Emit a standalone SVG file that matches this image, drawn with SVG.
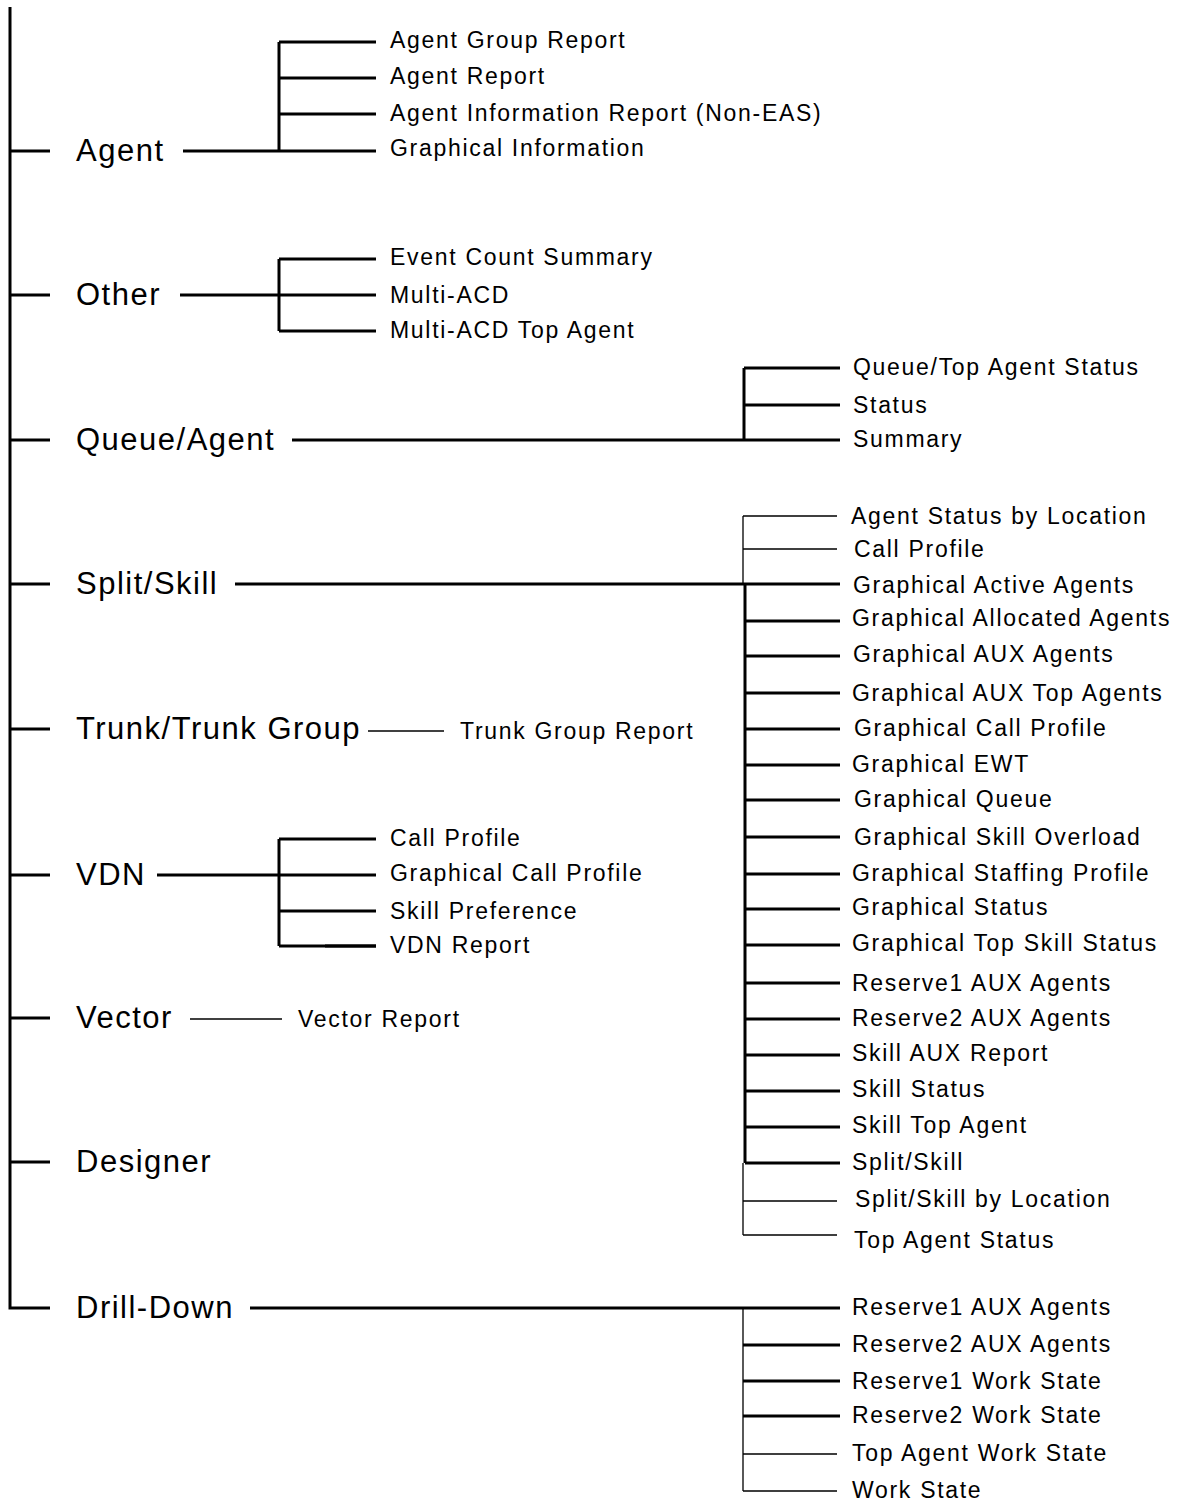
<svg xmlns="http://www.w3.org/2000/svg" width="1185" height="1501" viewBox="0 0 1185 1501">
<style>
.l1{font-family:"Liberation Sans",Arial,sans-serif;font-size:31px;letter-spacing:1.5px;fill:#000}
.l2{font-family:"Liberation Sans",Arial,sans-serif;font-size:23px;letter-spacing:1.7px;fill:#000}
.k{stroke:#000;stroke-width:3;fill:none}
.t{stroke:#000;stroke-width:1.3;fill:none}
</style>
<rect width="1185" height="1501" fill="#fff"/>
<g id="connectors">
<path class="k" d="M10,7V1308H50M10,151H50M10,295H50M10,440H50M10,584H50M10,729H50M10,875H50M10,1162H50"/>
<path class="k" stroke-width="4" d="M10,1018H50"/>
<path class="k" d="M183,151H376M279,42V151M279,78H376M279,114H376"/>
<path class="k" stroke-width="4" d="M279,42H376"/>
<path class="k" d="M180,295H376M279,259V331M279,259H376M279,331H376"/>
<path class="k" d="M292,440H840M744,368V440M744,368H840M744,405H840"/>
<path class="k" d="M235,584H840M745,584V1163M745,621H840M745,656H840M745,693H840M745,729H840M745,765H840M745,800H840M745,837H840M745,874H840M745,909H840M745,945H840M745,983H840M745,1019H840M745,1055H840M745,1091H840M745,1127H840M745,1163H840"/>
<path class="t" d="M743,516V584M743,516H837M743,549H837M743,1163V1235M743,1201H837M743,1235H837"/>
<path class="t" d="M368,731H444"/>
<path class="k" d="M157,875H376M279,839V946M279,839H376M279,911H376M279,946H376"/>
<path class="k" stroke-width="5" d="M325,946H376"/>
<path class="t" d="M190,1019H282"/>
<path class="k" d="M250,1308H840M743,1345H840M743,1381H840M743,1416H840"/>
<path class="t" d="M743,1308V1491M743,1454H837M743,1491H837"/>
</g>
<g id="agent"><text class="l1" x="76" y="161">Agent</text></g>
<g id="agent-children">
<text class="l2" x="390" y="48">Agent Group Report</text>
<text class="l2" x="390" y="84">Agent Report</text>
<text class="l2" x="390" y="121">Agent Information Report (Non-EAS)</text>
<text class="l2" x="390" y="156">Graphical Information</text>
</g>
<g id="other"><text class="l1" x="76" y="305">Other</text></g>
<g id="other-children">
<text class="l2" x="390" y="265">Event Count Summary</text>
<text class="l2" x="390" y="303">Multi-ACD</text>
<text class="l2" x="390" y="338">Multi-ACD Top Agent</text>
</g>
<g id="queue-agent"><text class="l1" x="76" y="450">Queue/Agent</text></g>
<g id="queue-agent-children">
<text class="l2" x="853" y="375">Queue/Top Agent Status</text>
<text class="l2" x="853" y="413">Status</text>
<text class="l2" x="853" y="447">Summary</text>
</g>
<g id="split-skill"><text class="l1" x="76" y="594">Split/Skill</text></g>
<g id="split-skill-children">
<text class="l2" x="851" y="524">Agent Status by Location</text>
<text class="l2" x="854" y="557">Call Profile</text>
<text class="l2" x="853" y="593">Graphical Active Agents</text>
<text class="l2" x="852" y="626">Graphical Allocated Agents</text>
<text class="l2" x="853" y="662">Graphical AUX Agents</text>
<text class="l2" x="852" y="701">Graphical AUX Top Agents</text>
<text class="l2" x="854" y="736">Graphical Call Profile</text>
<text class="l2" x="852" y="772">Graphical EWT</text>
<text class="l2" x="854" y="807">Graphical Queue</text>
<text class="l2" x="854" y="845">Graphical Skill Overload</text>
<text class="l2" x="852" y="881">Graphical Staffing Profile</text>
<text class="l2" x="852" y="915">Graphical Status</text>
<text class="l2" x="852" y="951">Graphical Top Skill Status</text>
<text class="l2" x="852" y="991">Reserve1 AUX Agents</text>
<text class="l2" x="852" y="1026">Reserve2 AUX Agents</text>
<text class="l2" x="852" y="1061">Skill AUX Report</text>
<text class="l2" x="852" y="1097">Skill Status</text>
<text class="l2" x="852" y="1133">Skill Top Agent</text>
<text class="l2" x="852" y="1170">Split/Skill</text>
<text class="l2" x="855" y="1207">Split/Skill by Location</text>
<text class="l2" x="854" y="1248">Top Agent Status</text>
</g>
<g id="trunk"><text class="l1" x="76" y="739">Trunk/Trunk Group</text></g>
<g id="trunk-children"><text class="l2" x="460" y="739">Trunk Group Report</text></g>
<g id="vdn"><text class="l1" x="76" y="885">VDN</text></g>
<g id="vdn-children">
<text class="l2" x="390" y="846">Call Profile</text>
<text class="l2" x="390" y="881">Graphical Call Profile</text>
<text class="l2" x="390" y="919">Skill Preference</text>
<text class="l2" x="390" y="953">VDN Report</text>
</g>
<g id="vector"><text class="l1" x="76" y="1028">Vector</text></g>
<g id="vector-children"><text class="l2" x="298" y="1027">Vector Report</text></g>
<g id="designer"><text class="l1" x="76" y="1172">Designer</text></g>
<g id="drill-down"><text class="l1" x="76" y="1318">Drill-Down</text></g>
<g id="drill-down-children">
<text class="l2" x="852" y="1315">Reserve1 AUX Agents</text>
<text class="l2" x="852" y="1352">Reserve2 AUX Agents</text>
<text class="l2" x="852" y="1389">Reserve1 Work State</text>
<text class="l2" x="852" y="1423">Reserve2 Work State</text>
<text class="l2" x="852" y="1461">Top Agent Work State</text>
<text class="l2" x="852" y="1498">Work State</text>
</g>
</svg>
